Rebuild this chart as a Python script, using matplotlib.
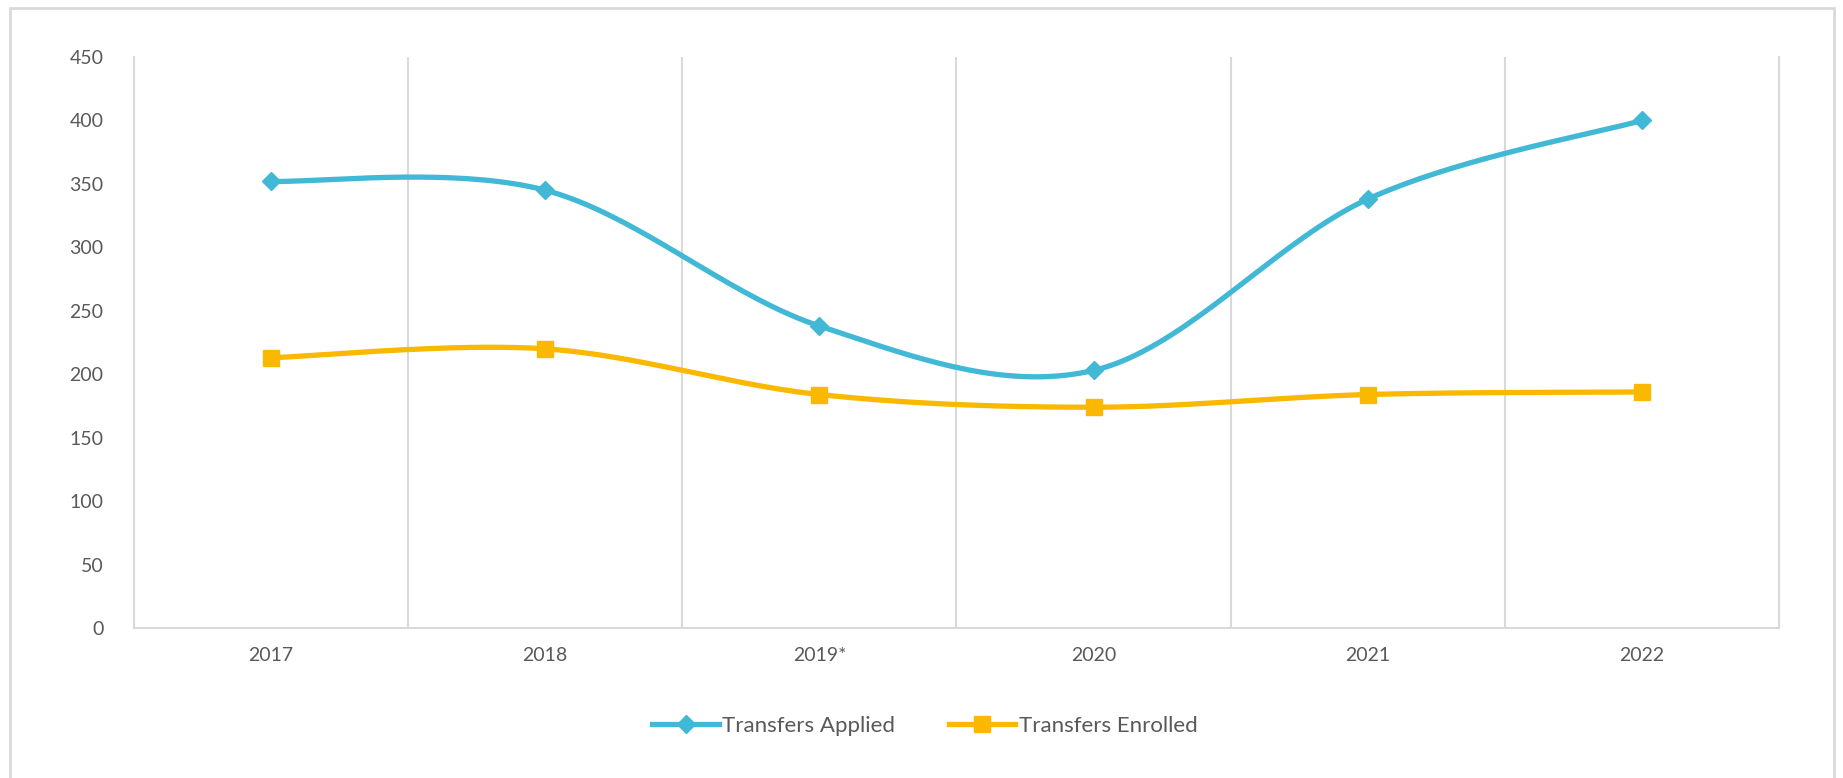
"""Transfers applied vs enrolled, 2017-2022 (smoothed lines, Excel style)."""
import matplotlib
matplotlib.use("Agg")
import matplotlib.pyplot as plt
from matplotlib.lines import Line2D
from matplotlib.patches import Rectangle
import numpy as np

plt.rcParams["font.family"] = ["Lato", "DejaVu Sans"]

# ── Data ──────────────────────────────────────────────────────────────────────
years = ["2017", "2018", "2019*", "2020", "2021", "2022"]
applied = [352, 345, 238, 203, 338, 400]
enrolled = [213, 220, 184, 174, 184, 186]
y_ticks = [0, 50, 100, 150, 200, 250, 300, 350, 400, 450]

BLUE = "#41B8D5"
GOLD = "#FBB800"
GRID = "#D9D9D9"
TEXT = "#595959"


def smooth(xs, ys, n=40):
    """Excel-like smoothing: cubic Bezier with Catmull-Rom control points."""
    p = np.column_stack([xs, ys]).astype(float)
    p = np.vstack([p[0], p, p[-1]])
    out = []
    t = np.linspace(0, 1, n)[:, None]
    for i in range(1, len(p) - 2):
        p0, p1, p2, p3 = p[i - 1], p[i], p[i + 1], p[i + 2]
        c1 = p1 + (p2 - p0) / 6
        c2 = p2 - (p3 - p1) / 6
        seg = ((1 - t) ** 3) * p1 + 3 * ((1 - t) ** 2) * t * c1 \
            + 3 * (1 - t) * t ** 2 * c2 + t ** 3 * p2
        out.append(seg if i == 1 else seg[1:])
    out = np.vstack(out)
    return out[:, 0], out[:, 1]


fig = plt.figure(figsize=(18.43, 7.78), dpi=100)
ax = fig.add_axes([134 / 1843, 1 - 628 / 778, (1779 - 134) / 1843, (628 - 57) / 778])

x = np.arange(len(years))
for vals, col, mk, ms in [(applied, BLUE, "D", 9.5), (enrolled, GOLD, "s", 11)]:
    sx, sy = smooth(x, vals)
    ax.plot(sx, sy, color=col, lw=3.8, solid_capstyle="round", zorder=3)
    ax.plot(x, vals, ls="none", marker=mk, ms=ms, color=col, zorder=4)

# vertical grid lines between categories
for b in np.arange(0.5, len(years) - 1, 1):
    ax.axvline(b, color=GRID, lw=1.5, zorder=1)

ax.set_xlim(-0.5, len(years) - 0.5)
ax.set_ylim(0, 450)
ax.set_yticks(y_ticks)
ax.set_yticklabels([str(v) for v in y_ticks])
ax.set_xticks(x)
ax.set_xticklabels(years)
ax.tick_params(axis="both", length=0, colors=TEXT)
ax.tick_params(axis="y", labelsize=14, pad=22)
ax.tick_params(axis="x", labelsize=14, pad=14)
ax.spines["top"].set_visible(False)
for side in ["left", "right", "bottom"]:
    ax.spines[side].set_color(GRID)
    ax.spines[side].set_linewidth(1.5)

# legend
handles = [
    Line2D([0], [0], color=BLUE, lw=3.8, marker="D", ms=9.5, label="Transfers Applied"),
    Line2D([0], [0], color=GOLD, lw=3.8, marker="s", ms=11, label="Transfers Enrolled"),
]
fig.legend(handles=handles, loc="center", bbox_to_anchor=(925 / 1843, 1 - 726 / 778),
           ncol=2, frameon=False, fontsize=16, handlelength=3.0, handletextpad=0.15,
           columnspacing=2.4, labelcolor=TEXT)

# outer chart border
fig.patches.append(Rectangle((10 / 1843, -0.05), (1834 - 10) / 1843, 1.05 - 8 / 778,
                             transform=fig.transFigure, fill=False,
                             edgecolor=GRID, lw=2))

fig.savefig("out.png", dpi=100)
